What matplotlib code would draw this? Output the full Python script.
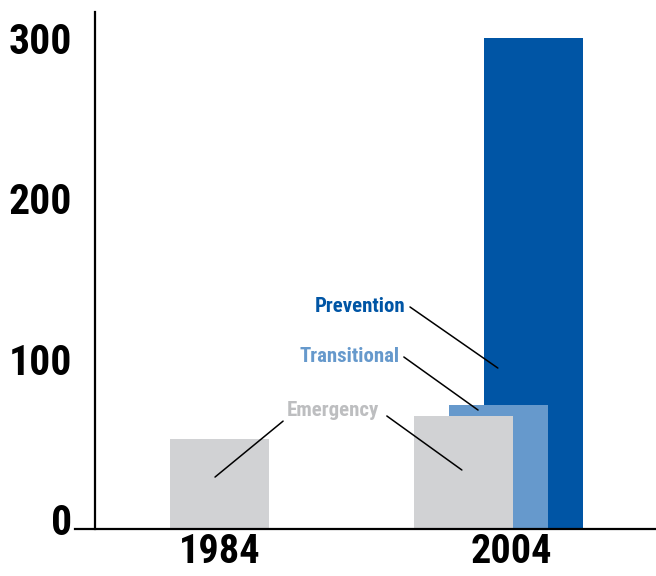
import matplotlib.pyplot as plt

years = ['1984', '2004']
emergency = [50, 64]
transitional = [None, 71]
prevention = [None, 300]

grey = '#d1d2d4'
light_blue = '#6699cc'
dark_blue = '#0055a5'

plt.rcParams['font.family'] = ['Roboto Condensed', 'Barlow Semi Condensed', 'DejaVu Sans']
plt.rcParams['font.weight'] = 'bold'

fig = plt.figure(figsize=(6.56, 5.76), dpi=100)
ax = fig.add_axes([75 / 656, 47 / 576, 581 / 656, 517 / 576])

y0 = -6.2
w = 0.355
off = 0.125

# 1984 only has the emergency bar
ax.bar(0, emergency[0] - y0, bottom=y0, width=w, color=grey)
# 2004: prevention behind, then transitional, then emergency in front
ax.bar(1 + off, prevention[1] - y0, bottom=y0, width=w, color=dark_blue)
ax.bar(1, transitional[1] - y0, bottom=y0, width=w, color=light_blue)
ax.bar(1 - off, emergency[1] - y0, bottom=y0, width=w, color=grey)

ax.set_xlim(-0.518, 1.565)
ax.set_ylim(y0, 316.3)

ax.set_yticks([0, 100, 200, 300])
ax.set_xticks([0, 1.045])
ax.set_xticklabels(years)
ax.tick_params(length=0, labelsize=30)
ax.tick_params(axis='y', pad=16.5)
ax.tick_params(axis='x', pad=3, labelsize=29)

for s in ['top', 'right']:
    ax.spines[s].set_visible(False)
ax.spines['left'].set_position(('axes', 20 / 581))
for s in ['left', 'bottom']:
    ax.spines[s].set_linewidth(1.6)

# labels with leader lines
ax.text(0.668, 132.9, 'Prevention', color=dark_blue, fontsize=15,
        ha='right', va='center')
ax.text(0.647, 101.1, 'Transitional', color=light_blue, fontsize=15,
        ha='right', va='center')
ax.text(0.572, 68.0, 'Emergency', color='#bdbec0', fontsize=15,
        ha='right', va='center')

lines = [((0.683, 132.3), (0.998, 94.2)),
         ((0.661, 101.1), (0.927, 68.0)),
         ((0.600, 64.3), (0.869, 30.6)),
         ((0.228, 61.1), (-0.016, 26.2))]
for start, end in lines:
    ax.annotate('', xy=end, xytext=start,
                arrowprops=dict(arrowstyle='-', color='black', lw=1.1,
                                shrinkA=0, shrinkB=0))

fig.savefig('out.png', dpi=100)
